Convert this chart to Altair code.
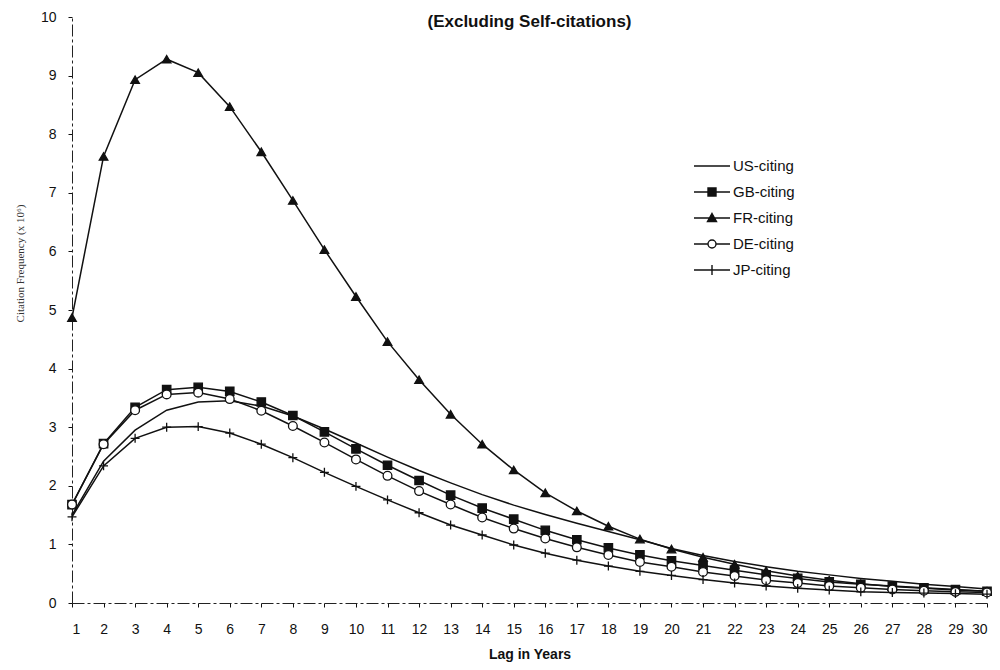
import altair as alt
import pandas as pd

years = list(range(1, 31))
series_names = ["US-citing", "GB-citing", "FR-citing", "DE-citing", "JP-citing"]

us_vals = [1.50, 2.42, 2.95, 3.29, 3.43, 3.45, 3.36, 3.19, 2.97, 2.73,
           2.49, 2.26, 2.05, 1.85, 1.67, 1.51, 1.36, 1.22, 1.08, 0.93,
           0.81, 0.71, 0.62, 0.54, 0.48, 0.42, 0.37, 0.32, 0.28, 0.24]
gb_vals = [1.68, 2.72, 3.34, 3.64, 3.68, 3.61, 3.43, 3.20, 2.92, 2.63,
           2.35, 2.09, 1.84, 1.62, 1.43, 1.24, 1.08, 0.94, 0.82, 0.72,
           0.64, 0.56, 0.48, 0.42, 0.36, 0.32, 0.29, 0.26, 0.23, 0.20]
fr_vals = [4.87, 7.62, 8.93, 9.28, 9.05, 8.47, 7.70, 6.87, 6.03, 5.23,
           4.46, 3.81, 3.22, 2.71, 2.27, 1.88, 1.57, 1.31, 1.09, 0.92,
           0.78, 0.66, 0.55, 0.46, 0.39, 0.33, 0.28, 0.25, 0.22, 0.20]
de_vals = [1.68, 2.71, 3.29, 3.56, 3.59, 3.48, 3.28, 3.02, 2.74, 2.45,
           2.17, 1.91, 1.68, 1.46, 1.27, 1.10, 0.95, 0.82, 0.70, 0.62,
           0.53, 0.46, 0.39, 0.34, 0.29, 0.26, 0.23, 0.21, 0.19, 0.18]
jp_vals = [1.47, 2.34, 2.81, 3.00, 3.01, 2.90, 2.71, 2.48, 2.23, 1.99,
           1.76, 1.54, 1.33, 1.16, 0.99, 0.85, 0.73, 0.63, 0.54, 0.47,
           0.40, 0.34, 0.29, 0.25, 0.22, 0.19, 0.18, 0.17, 0.16, 0.15]

y_ticks = list(range(0, 11))

rows = []
for name, vals in zip(series_names, [us_vals, gb_vals, fr_vals, de_vals, jp_vals]):
    for yr, v in zip(years, vals):
        rows.append({"lag": yr, "freq": v, "series": name})
df = pd.DataFrame(rows)

INK = "#111111"

x_enc = alt.X(
    "lag:Q",
    scale=alt.Scale(domain=[1, 30], nice=False, zero=False),
    axis=alt.Axis(values=years, title="Lag in Years", format="d", labelOverlap=False,
                  labelPadding=15, titlePadding=11, titleFontWeight="bold",
                  titleFontSize=14, titleFont="Liberation Sans"),
)
y_enc = alt.Y(
    "freq:Q",
    scale=alt.Scale(domain=[0, 10], nice=False),
    axis=alt.Axis(values=y_ticks, title="Citation Frequency (x 10⁶)", format="d",
                  labelPadding=12, titleFont="Liberation Serif", titleFontSize=11,
                  titleFontWeight="normal", titleColor="#333333",
                  titleX=-47, titleY=246),
)

lines = alt.Chart(df).mark_line(color=INK, strokeWidth=1.5).encode(
    x=x_enc, y=y_enc, detail="series:N"
)

pt_domain = ["GB-citing", "FR-citing", "DE-citing", "JP-citing"]
points = alt.Chart(df).transform_filter(
    alt.datum.series != "US-citing"
).mark_point(stroke=INK, strokeWidth=1.3, opacity=1).encode(
    x=x_enc, y=y_enc,
    shape=alt.Shape("series:N", scale=alt.Scale(
        domain=pt_domain,
        range=["square", "triangle-up", "circle", "M-1,0H1M0,-1V1"]), legend=None),
    fill=alt.Fill("series:N", scale=alt.Scale(
        domain=pt_domain, range=[INK, INK, "white", INK]), legend=None),
    size=alt.Size("series:N", scale=alt.Scale(
        domain=pt_domain, range=[70, 80, 70, 100]), legend=None),
)

legend_paths = [
    "M-1.8,0H1.8",
    "M-1.8,0H1.8M-0.4,-0.4H0.4V0.4H-0.4Z",
    "M-1.8,0H1.8M0,-0.45L0.45,0.35H-0.45Z",
    "M-1.8,0H-0.4M0.4,0H1.8M0.4,0A0.4,0.4 0 1,1 -0.4,0A0.4,0.4 0 1,1 0.4,0Z",
    "M-1.8,0H1.8M0,-0.5V0.5",
]
leg = alt.Legend(
    title=None, orient="none", legendX=629, legendY=138,
    labelFont="Liberation Sans", labelFontSize=15, labelColor=INK,
    labelOffset=10, symbolSize=400, symbolStrokeWidth=1.4,
    symbolOpacity=1, rowPadding=7, padding=0,
)
legend_layer = alt.Chart(df).mark_point(opacity=0).encode(
    x=x_enc, y=y_enc,
    shape=alt.Shape("series:N", sort=series_names,
                    scale=alt.Scale(domain=series_names, range=legend_paths), legend=leg),
    fill=alt.Fill("series:N", sort=series_names,
                  scale=alt.Scale(domain=series_names,
                                  range=["transparent", INK, INK, "white", INK]), legend=leg),
    stroke=alt.Stroke("series:N", sort=series_names,
                      scale=alt.Scale(domain=series_names,
                                      range=[INK, INK, INK, INK, INK]), legend=leg),
)

chart = alt.layer(lines, points, legend_layer).resolve_scale(
    shape="independent", fill="independent", size="independent", stroke="independent"
).properties(
    width=915, height=586,
    autosize=alt.AutoSizeParams(type="none"),
    padding={"left": 64, "top": 9, "right": 5, "bottom": 59},
    title=alt.TitleParams(text="(Excluding Self-citations)", font="Liberation Sans",
                          fontSize=17, fontWeight="bold", anchor="middle", frame="group",
                          offset=0, dy=34, baseline="alphabetic", color=INK),
).configure_view(stroke=None).configure_axis(
    labelFont="Liberation Sans", labelFontSize=14, labelColor=INK,
    tickColor=INK, tickSize=4, tickWidth=1, domainColor="#222222",
    domainWidth=1, domainDash=[12, 3, 3, 3], grid=False, titleColor=INK,
)

chart.save("out.html", embed_options={"renderer": "svg", "actions": False})
